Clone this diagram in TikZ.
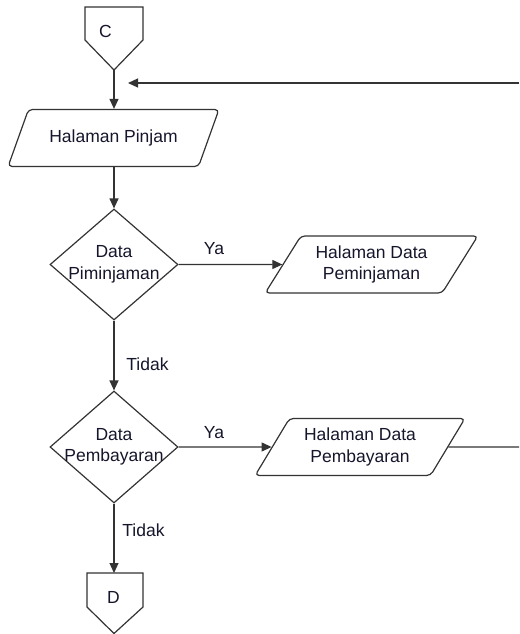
\documentclass[tikz,border=0pt]{standalone}
\usepackage{fontspec}
\setmainfont{Liberation Sans}
\usetikzlibrary{shapes.geometric,arrows.meta}
\definecolor{linec}{HTML}{333333}
\definecolor{textc}{HTML}{15152B}
\begin{document}
\begin{tikzpicture}[x=1pt,y=-1pt,
  flow/.style={draw=linec, line width=1.2pt, line join=miter},
  arr/.style={flow, -{Triangle[length=10pt,width=9pt]}},
  txt/.style={font=\fontsize{17.5}{21.5}\selectfont, text=textc, align=center, inner sep=0pt},
  io/.style={trapezium, trapezium left angle=#1, trapezium right angle=180-#1,
    trapezium stretches=true, draw=linec, line width=1.2pt, rounded corners=4pt,
    minimum height=57pt, inner sep=2pt, font=\fontsize{17.5}{21.5}\selectfont,
    text=textc, align=center},
  dec/.style={diamond, draw=linec, line width=1.2pt, minimum width=128pt,
    minimum height=111pt, inner sep=0pt}]
\useasboundingbox (0,0) rectangle (519,634);
% connector C
\draw[flow] (85,7) -- (143,7) -- (143,40) -- (114,70) -- (85,40) -- cycle;
\coordinate (ctip) at (114,70);
\node[txt] (clab) at (105.5,31) {C};
% Halaman Pinjam
\node[io=52, minimum width=211pt] (p1) at (113.5,138) {Halaman Pinjam};
% decision 1
\node[dec] (d1) at (114,264.5) {};
\node[txt] (d1t) at (114,264.5) {Data\\Piminjaman};
% output 2
\node[io=55, minimum width=213pt] (p2) at (371.5,264.5) {Halaman Data\\Peminjaman};
% decision 2
\node[dec, minimum height=112pt] (d2) at (114,447) {};
\node[txt] (d2t) at (114,447) {Data\\Pembayaran};
% output 3
\node[io=56, minimum width=210pt] (p3) at (360,447) {Halaman Data\\Pembayaran};
% connector D
\draw[flow] (87,573) -- (143,573) -- (143,607) -- (114,633.5) -- (87,607) -- cycle;
\coordinate (dtop) at (114,573);
\node[txt] (dlab) at (113.5,597) {D};
% return line
\coordinate (rin) at (519,83);
\coordinate (rtip) at (128,83);
\coordinate (rout) at (519,447);
% connectors
\draw[arr] (ctip) -- (ctip |- p1.north);
\draw[arr] (p1.south -| d1.north) -- (d1.north);
\draw[arr] (d1.east) -- (p2);
\draw[arr] (d1.south) -- (d2.north);
\draw[arr] (d2.east) -- (p3);
\draw[arr] (d2.south) -- (dtop);
\draw[flow] (p3) ++(0,0) (p3.east) -- (rout);
\draw[arr] (rin) -- (rtip);
% labels
\node[txt] (ya1) at (214,249) {Ya};
\node[txt] (td1) at (147.5,364) {Tidak};
\node[txt] (ya2) at (214,432.5) {Ya};
\node[txt] (td2) at (143.5,530) {Tidak};
\end{tikzpicture}
\end{document}
